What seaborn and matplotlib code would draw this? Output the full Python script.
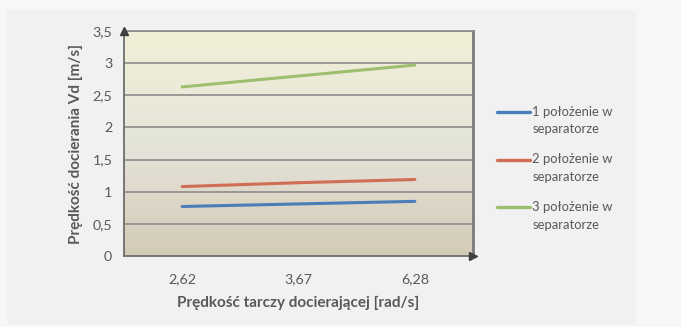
import numpy as np
import pandas as pd
import matplotlib
matplotlib.use("Agg")
import matplotlib.pyplot as plt
from matplotlib.colors import LinearSegmentedColormap
from matplotlib.patches import Rectangle
import seaborn as sns

# Data
speeds = ["2,62", "3,67", "6,28"]
series_names = ["1 położenie w\nseparatorze", "2 położenie w\nseparatorze", "3 położenie w\nseparatorze"]
pos1 = [0.77, 0.81, 0.85]
pos2 = [1.08, 1.14, 1.19]
pos3 = [2.63, 2.80, 2.97]
y_ticks = [0, 0.5, 1, 1.5, 2, 2.5, 3, 3.5]
y_tick_labels = ["0", "0,5", "1", "1,5", "2", "2,5", "3", "3,5"]

df = pd.DataFrame({
    "speed": speeds * 3,
    "value": pos1 + pos2 + pos3,
    "series": [series_names[0]] * 3 + [series_names[1]] * 3 + [series_names[2]] * 3,
})

sns.set_theme(style="white")
plt.rcParams["font.family"] = ["Lato", "DejaVu Sans"]
text_color = "#595959"

fig = plt.figure(figsize=(6.81, 3.27), dpi=100)
fig.patch.set_facecolor("#f9f6f6")

# Light gray chart panel behind everything
bg_ax = fig.add_axes([0, 0, 1, 1], zorder=-10)
bg_ax.set_axis_off()
bg_ax.set_xlim(0, 681)
bg_ax.set_ylim(327, 0)
bg_ax.add_patch(Rectangle((7, 10), 629, 315, facecolor="#f1f1f1", edgecolor="none"))

ax = fig.add_axes([124 / 681, 1 - 256 / 327, 349 / 681, 225 / 327], zorder=1)

# Vertical gradient background of the plot area
grad_cmap = LinearSegmentedColormap.from_list(
    "bg", ["#d3cbb7", "#ddd7c8", "#e5e4da", "#ecebd9", "#f1efd6"])
grad = np.linspace(0, 1, 256).reshape(-1, 1)
ax.imshow(grad, extent=[0, 1, 0, 1], transform=ax.transAxes, cmap=grad_cmap,
          aspect="auto", origin="lower", zorder=0)

palette = ["#4a7ebb", "#cf6e55", "#9dbf6e"]
sns.lineplot(data=df, x="speed", y="value", hue="series", palette=palette,
             linewidth=2.2, ax=ax, sort=False, zorder=3)

ax.set_xlim(-0.5, 2.5)
ax.set_ylim(0, 3.5)
ax.set_yticks(y_ticks)
ax.set_yticklabels(y_tick_labels)
for y in y_ticks[1:]:
    ax.axhline(y, color="#8c8c8c", linewidth=1.2, zorder=1)

ax.spines["top"].set_color("#8c8c8c")
ax.spines["top"].set_linewidth(1.2)
ax.spines["right"].set_color("#7a7a7a")
ax.spines["right"].set_linewidth(2.0)
ax.spines["left"].set_color("#6e6e6e")
ax.spines["left"].set_linewidth(1.3)
ax.spines["bottom"].set_color("#6e6e6e")
ax.spines["bottom"].set_linewidth(1.3)

# Axis arrow heads
ax.plot([0], [1], marker="^", markersize=6, color="#3f3f3f",
        transform=ax.transAxes, clip_on=False, zorder=5)
ax.plot([1], [0], marker=">", markersize=6, color="#3f3f3f",
        transform=ax.transAxes, clip_on=False, zorder=5)

ax.tick_params(axis="both", labelsize=10.3, labelcolor=text_color)
ax.tick_params(axis="y", length=2.5, width=1.0, color="#6e6e6e", pad=6)
ax.tick_params(axis="x", length=0, pad=12)

ax.set_xlabel("Prędkość tarczy docierającej [rad/s]", fontsize=11,
              color=text_color, fontweight="bold", labelpad=8)
ax.set_ylabel("Prędkość docierania Vd [m/s]", fontsize=11,
              color=text_color, fontweight="bold", labelpad=7)

leg = ax.legend(loc="upper left", bbox_to_anchor=(1.069, 0.668), frameon=False,
                fontsize=9.4, labelcolor=text_color, handlelength=2.5,
                handletextpad=0.2, labelspacing=1.4, borderaxespad=0,
                borderpad=0)
for txt in leg.get_texts():
    txt.set_linespacing(1.55)
for line in leg.get_lines():
    line.set_linewidth(2.4)
    line.set_ydata(np.asarray(line.get_ydata()) + 6.5)

fig.savefig("out.png", dpi=100, facecolor=fig.get_facecolor())
